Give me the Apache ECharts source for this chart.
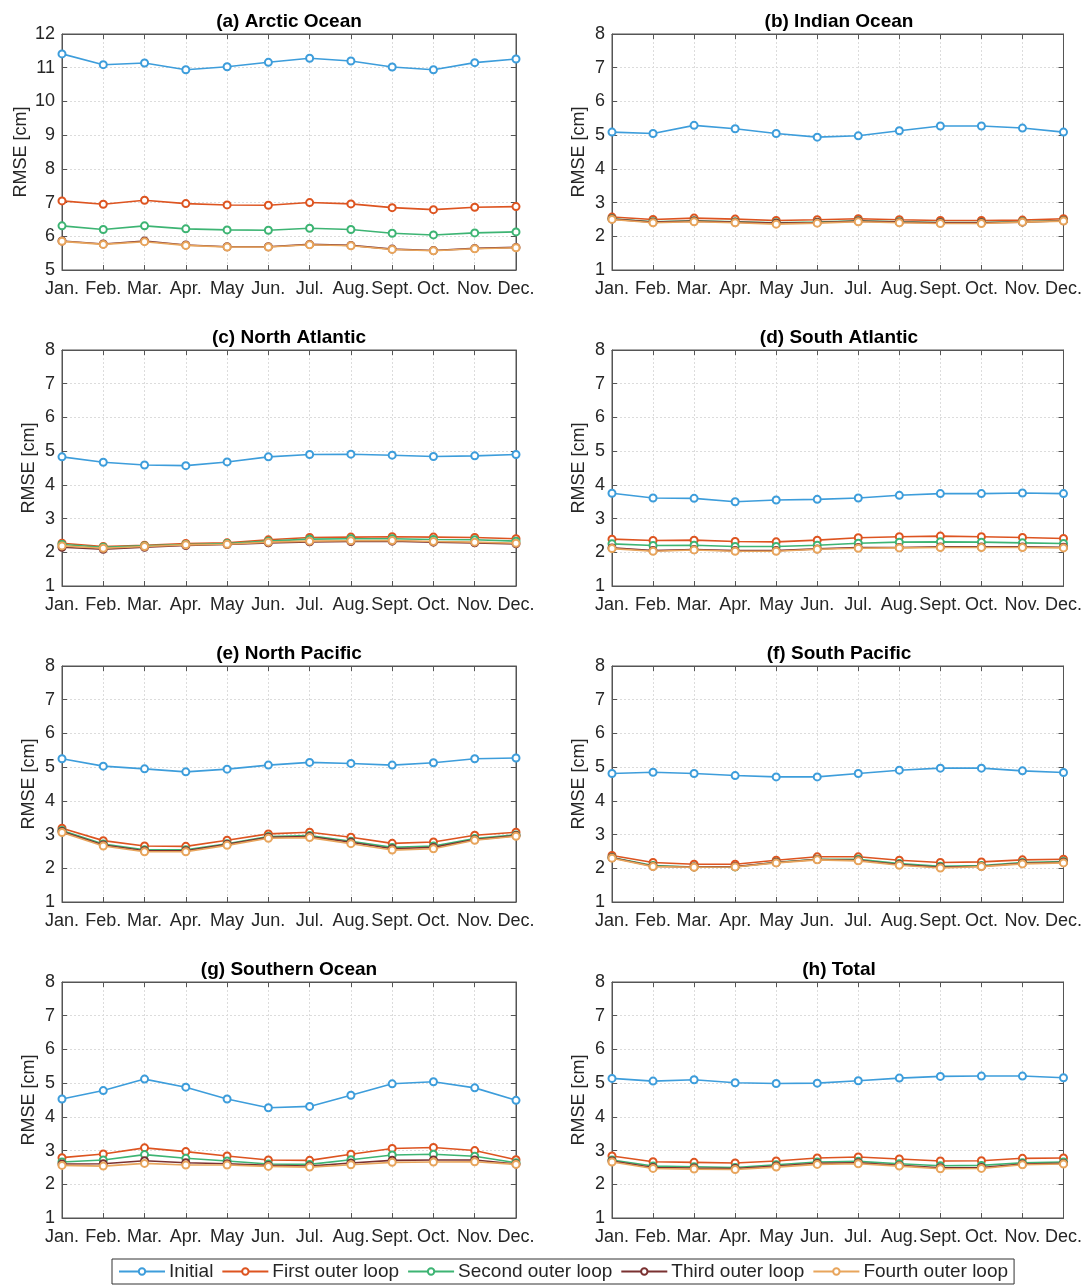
<!DOCTYPE html>
<html>
<head>
<meta charset="utf-8">
<script src="https://cdn.jsdelivr.net/npm/echarts@6/dist/echarts.min.js"></script>
<style>
html,body{margin:0;padding:0;background:#fff;}
#chart{width:1085px;height:1285px;}
</style>
</head>
<body>
<div id="chart"></div>
<script>
const months = ['Jan.','Feb.','Mar.','Apr.','May','Jun.','Jul.','Aug.','Sept.','Oct.','Nov.','Dec.'];
const seriesNames = ['Initial','First outer loop','Second outer loop','Third outer loop','Fourth outer loop'];
const panelTitles = ['(a) Arctic Ocean','(b) Indian Ocean','(c) North Atlantic','(d) South Atlantic','(e) North Pacific','(f) South Pacific','(g) Southern Ocean','(h) Total'];
const yMins = [5,1,1,1,1,1,1,1];
const yMaxs = [12,8,8,8,8,8,8,8];

// (a) Arctic Ocean
const arcticInitial = [11.41,11.09,11.14,10.94,11.03,11.16,11.28,11.20,11.02,10.94,11.15,11.26];
const arcticFirst   = [7.05,6.95,7.07,6.97,6.93,6.92,7.00,6.96,6.85,6.79,6.86,6.88];
const arcticSecond  = [6.31,6.20,6.31,6.22,6.19,6.18,6.24,6.20,6.09,6.04,6.10,6.13];
const arcticThird   = [5.86,5.77,5.86,5.74,5.69,5.69,5.76,5.73,5.62,5.58,5.64,5.67];
const arcticFourth  = [5.85,5.76,5.84,5.73,5.68,5.68,5.75,5.72,5.61,5.57,5.63,5.66];
// (b) Indian Ocean
const indianInitial = [5.09,5.05,5.29,5.19,5.05,4.94,4.98,5.13,5.27,5.27,5.21,5.09];
const indianFirst   = [2.57,2.50,2.54,2.51,2.47,2.49,2.52,2.49,2.47,2.47,2.48,2.52];
const indianSecond  = [2.52,2.43,2.46,2.43,2.40,2.42,2.46,2.43,2.41,2.41,2.43,2.47];
const indianThird   = [2.51,2.42,2.45,2.42,2.39,2.41,2.45,2.42,2.40,2.40,2.42,2.46];
const indianFourth  = [2.50,2.40,2.43,2.40,2.36,2.39,2.43,2.40,2.38,2.38,2.42,2.45];
// (c) North Atlantic
const nAtlInitial = [4.83,4.67,4.59,4.57,4.68,4.83,4.90,4.91,4.88,4.84,4.86,4.90];
const nAtlFirst   = [2.27,2.17,2.21,2.26,2.28,2.37,2.44,2.45,2.46,2.45,2.44,2.40];
const nAtlSecond  = [2.23,2.15,2.19,2.23,2.26,2.33,2.39,2.40,2.40,2.38,2.37,2.33];
const nAtlThird   = [2.15,2.09,2.15,2.20,2.23,2.28,2.31,2.32,2.33,2.30,2.28,2.25];
const nAtlFourth  = [2.19,2.12,2.17,2.22,2.24,2.30,2.33,2.34,2.35,2.32,2.30,2.27];
// (d) South Atlantic
const sAtlInitial = [3.75,3.61,3.60,3.50,3.55,3.57,3.61,3.69,3.74,3.74,3.76,3.74];
const sAtlFirst   = [2.39,2.35,2.36,2.32,2.31,2.36,2.43,2.46,2.48,2.46,2.44,2.41];
const sAtlSecond  = [2.25,2.20,2.21,2.17,2.17,2.21,2.27,2.30,2.31,2.30,2.28,2.26];
const sAtlThird   = [2.13,2.05,2.08,2.05,2.05,2.10,2.14,2.14,2.16,2.16,2.16,2.15];
const sAtlFourth  = [2.11,2.03,2.07,2.03,2.03,2.09,2.12,2.13,2.14,2.14,2.14,2.13];
// (e) North Pacific
const nPacInitial = [5.25,5.03,4.95,4.86,4.94,5.06,5.14,5.11,5.06,5.13,5.25,5.27];
const nPacFirst   = [3.19,2.82,2.66,2.65,2.83,3.02,3.07,2.92,2.74,2.78,2.98,3.07];
const nPacSecond  = [3.12,2.72,2.55,2.55,2.73,2.94,2.97,2.80,2.62,2.66,2.88,2.99];
const nPacThird   = [3.09,2.69,2.52,2.52,2.71,2.92,2.94,2.77,2.58,2.62,2.85,2.97];
const nPacFourth  = [3.06,2.66,2.49,2.49,2.68,2.89,2.91,2.73,2.54,2.58,2.83,2.95];
// (f) South Pacific
const sPacInitial = [4.81,4.85,4.81,4.75,4.71,4.71,4.81,4.91,4.97,4.97,4.89,4.84];
const sPacFirst   = [2.38,2.17,2.12,2.12,2.24,2.34,2.34,2.24,2.17,2.19,2.25,2.27];
const sPacSecond  = [2.32,2.08,2.04,2.04,2.18,2.27,2.27,2.14,2.06,2.08,2.17,2.20];
const sPacThird   = [2.31,2.06,2.04,2.05,2.17,2.26,2.24,2.11,2.03,2.06,2.15,2.18];
const sPacFourth  = [2.30,2.05,2.03,2.04,2.16,2.25,2.22,2.09,2.01,2.05,2.13,2.16];
// (g) Southern Ocean
const southInitial = [4.53,4.78,5.12,4.88,4.53,4.27,4.31,4.64,4.98,5.04,4.86,4.49];
const southFirst   = [2.79,2.90,3.08,2.97,2.84,2.72,2.71,2.89,3.06,3.09,3.00,2.73];
const southSecond  = [2.66,2.72,2.88,2.77,2.69,2.60,2.59,2.73,2.87,2.89,2.83,2.64];
const southThird   = [2.60,2.61,2.70,2.64,2.61,2.56,2.54,2.63,2.71,2.72,2.72,2.60];
const southFourth  = [2.56,2.54,2.62,2.57,2.57,2.53,2.51,2.58,2.65,2.66,2.67,2.59];
// (h) Total
const totalInitial = [5.14,5.06,5.10,5.01,4.99,5.00,5.07,5.15,5.20,5.21,5.21,5.16];
const totalFirst   = [2.84,2.67,2.65,2.63,2.69,2.78,2.81,2.75,2.69,2.70,2.77,2.78];
const totalSecond  = [2.72,2.54,2.52,2.50,2.58,2.66,2.68,2.61,2.55,2.56,2.64,2.66];
const totalThird   = [2.69,2.50,2.48,2.47,2.54,2.62,2.64,2.56,2.49,2.50,2.60,2.62];
const totalFourth  = [2.66,2.47,2.45,2.44,2.51,2.59,2.61,2.54,2.46,2.47,2.58,2.60];

const panelData = [
  [arcticInitial, arcticFirst, arcticSecond, arcticThird, arcticFourth],
  [indianInitial, indianFirst, indianSecond, indianThird, indianFourth],
  [nAtlInitial, nAtlFirst, nAtlSecond, nAtlThird, nAtlFourth],
  [sAtlInitial, sAtlFirst, sAtlSecond, sAtlThird, sAtlFourth],
  [nPacInitial, nPacFirst, nPacSecond, nPacThird, nPacFourth],
  [sPacInitial, sPacFirst, sPacSecond, sPacThird, sPacFourth],
  [southInitial, southFirst, southSecond, southThird, southFourth],
  [totalInitial, totalFirst, totalSecond, totalThird, totalFourth]
];

const colors = ['#3d9ddb','#dd5420','#3db473','#7a3131','#e8a55c'];
const FONT = '"Liberation Sans", Arial, sans-serif';
const TXT = '#262626';
const BOX = '#555555';
const GRIDC = '#dcdcdc';

const colLeft = [62, 612];
const plotW = 454;
const rowTop = [34, 350, 666, 982];
const plotH = 236;

const grids = [], xAxes = [], yAxes = [], series = [], titles = [];
for (let p = 0; p < 8; p++) {
  const col = p % 2, row = Math.floor(p / 2);
  const left = colLeft[col], top = rowTop[row];
  grids.push({left: left, top: top, width: plotW, height: plotH, show: true, borderColor: BOX, borderWidth: 1, backgroundColor: 'transparent'});
  const xb = xAxes.length;
  xAxes.push({
    type: 'category', gridIndex: p, data: months, boundaryGap: false, position: 'bottom',
    axisLine: {show: true, lineStyle: {color: BOX, width: 1}},
    axisTick: {show: true, inside: true, length: 5, lineStyle: {color: BOX}},
    axisLabel: {show: true, color: TXT, fontSize: 18, fontFamily: FONT, margin: 10, interval: 0},
    splitLine: {show: true, lineStyle: {color: GRIDC, type: [2, 2], width: 1}}
  });
  xAxes.push({
    type: 'category', gridIndex: p, data: months, boundaryGap: false, position: 'top',
    axisLine: {show: true, lineStyle: {color: BOX, width: 1}},
    axisTick: {show: true, inside: true, length: 5, lineStyle: {color: BOX}},
    axisLabel: {show: false}, splitLine: {show: false}
  });
  const yb = yAxes.length;
  const isLeftCol = col === 0;
  let gap = isLeftCol ? (p === 0 ? 32 : 24) : 24;
  yAxes.push({
    type: 'value', gridIndex: p, min: yMins[p], max: yMaxs[p], interval: 1, position: 'left',
    name: 'RMSE [cm]', nameLocation: 'middle', nameGap: gap,
    nameTextStyle: {color: TXT, fontSize: 18, fontFamily: FONT},
    axisLine: {show: true, lineStyle: {color: BOX, width: 1}},
    axisTick: {show: true, inside: true, length: 5, lineStyle: {color: BOX}},
    axisLabel: {show: true, color: TXT, fontSize: 18, fontFamily: FONT, margin: 7},
    splitLine: {show: true, lineStyle: {color: GRIDC, type: [2, 2], width: 1}}
  });
  yAxes.push({
    type: 'value', gridIndex: p, min: yMins[p], max: yMaxs[p], interval: 1, position: 'right',
    axisLine: {show: true, lineStyle: {color: BOX, width: 1}},
    axisTick: {show: true, inside: true, length: 5, lineStyle: {color: BOX}},
    axisLabel: {show: false}, splitLine: {show: false}
  });
  titles.push({
    text: panelTitles[p], left: left + plotW / 2, top: top - 22, textAlign: 'center', padding: 0,
    textStyle: {fontSize: 19, fontWeight: 'bold', color: '#000', fontFamily: FONT}
  });
  for (let s = 0; s < 5; s++) {
    series.push({
      name: seriesNames[s], type: 'line', xAxisIndex: xb, yAxisIndex: yb,
      data: panelData[p][s], symbol: 'emptyCircle', symbolSize: 7,
      lineStyle: {color: colors[s], width: 1.6},
      itemStyle: {color: colors[s], borderColor: colors[s], borderWidth: 1.3},
      z: 2 + s, animation: false
    });
  }
}

const chart = echarts.init(document.getElementById('chart'), null, {renderer: 'canvas'});
chart.setOption({
  backgroundColor: '#fff',
  animation: false,
  color: colors,
  title: titles,
  grid: grids,
  xAxis: xAxes,
  yAxis: yAxes,
  legend: {
    data: seriesNames, bottom: 1, left: 112,
    borderColor: '#333', borderWidth: 1, padding: [3, 6, 3, 6], itemGap: 8,
    itemWidth: 46, itemHeight: 8,
    textStyle: {fontSize: 19, color: TXT, fontFamily: FONT, padding: [0, 0, 0, -1]}
  },
  series: series
});
</script>
</body>
</html>
